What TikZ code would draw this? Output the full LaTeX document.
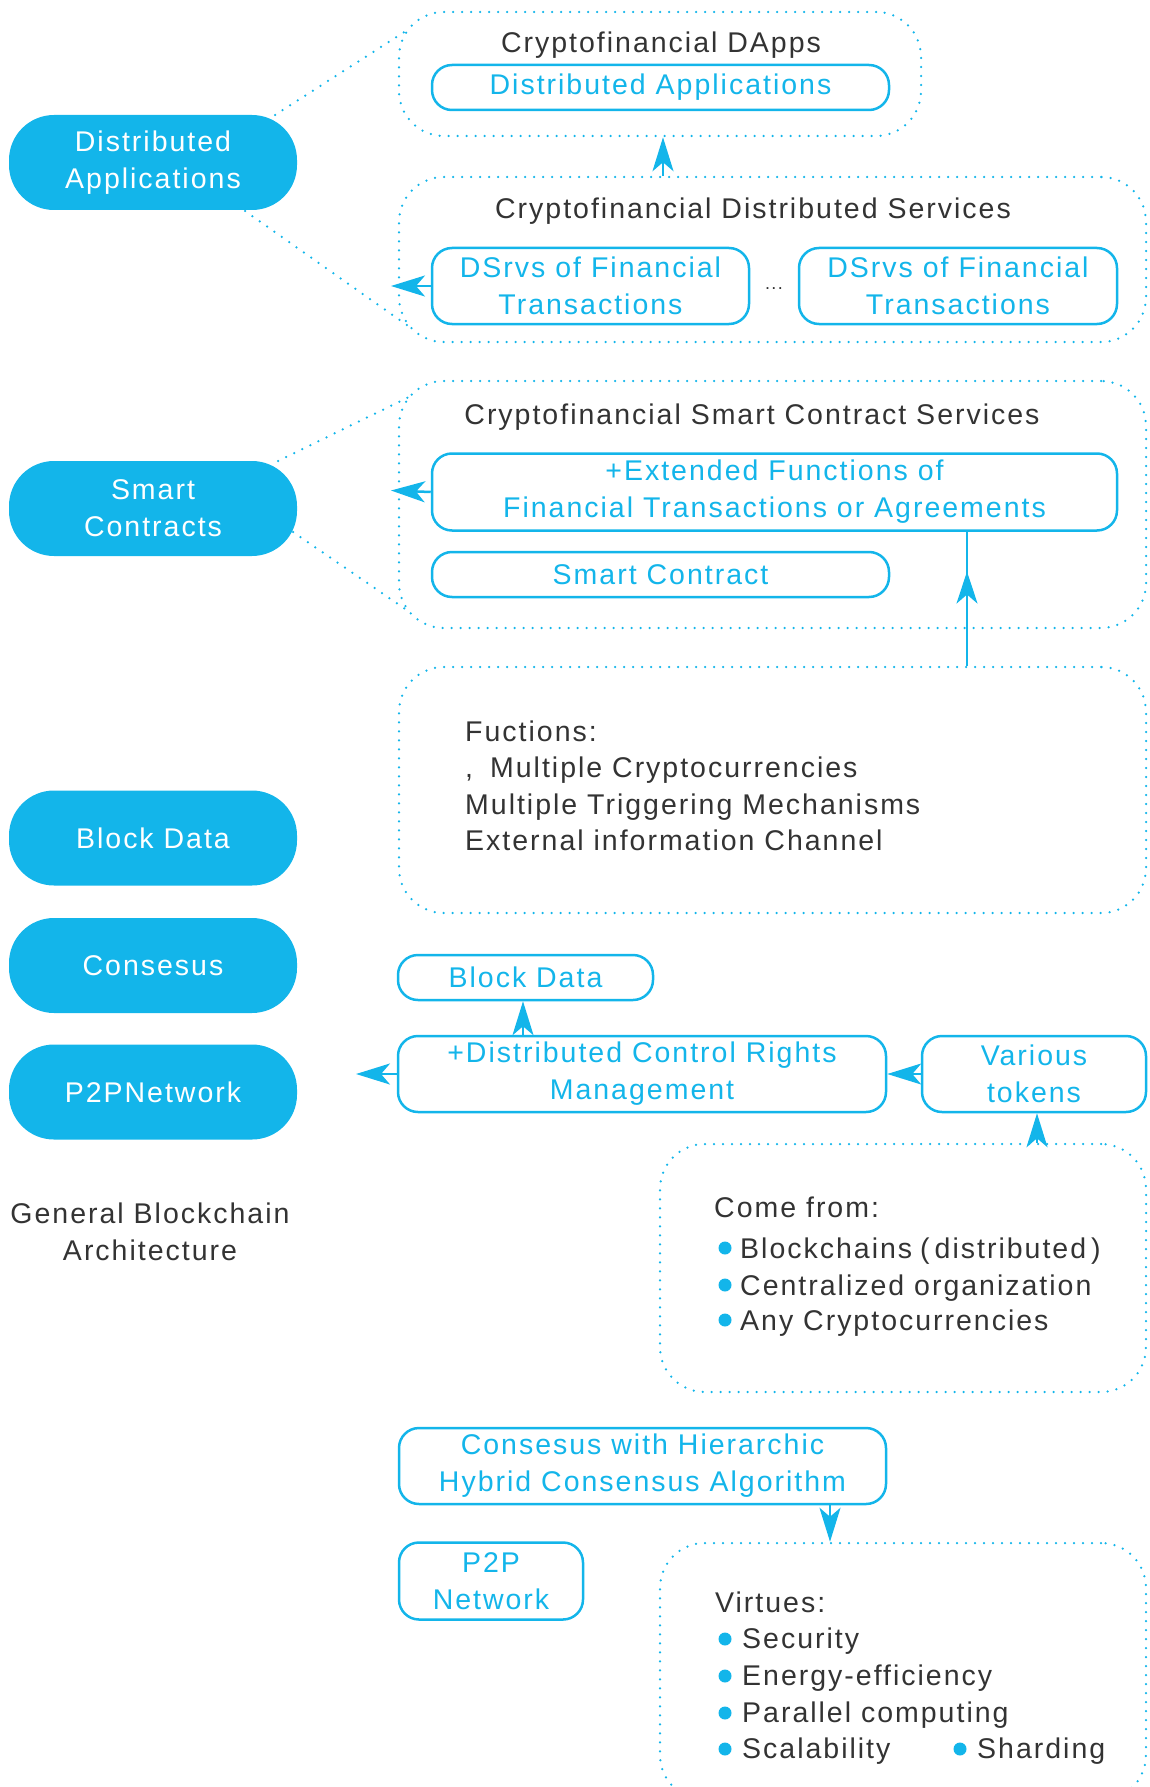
\documentclass[tikz,border=0pt]{standalone}
\usepackage{fontspec}
\setmainfont{Liberation Sans}[LetterSpace=7]
\usetikzlibrary{arrows.meta,decorations.markings}
\definecolor{cy}{HTML}{13B5EA}
\definecolor{dk}{HTML}{333333}
\newcommand{\fs}{\fontsize{28.5}{37}\selectfont}
\begin{document}
\begin{tikzpicture}[x=1pt,y=-1pt,
  pill/.style={fill=cy, draw=none, rounded corners=45pt, text=white, align=center, font=\fs, minimum width=288pt, minimum height=95pt, inner sep=0pt},
  cbox/.style={draw=cy, line width=2.5pt, rounded corners=20pt, text=cy, align=center, inner sep=0pt, font=\fs},
  dbox/.style={draw=cy, line width=2.5pt, dash pattern=on 0pt off 9pt, line cap=round, rounded corners=45pt, inner sep=0pt},
  dline/.style={draw=cy, line width=2.5pt, dash pattern=on 0pt off 9pt, line cap=round},
  ttl/.style={text=dk, font=\fs, inner sep=0pt},
  lst/.style={text=dk, font=\fs, inner sep=0pt, anchor=base west},
  bul/.style={circle, fill=cy, minimum size=13pt, inner sep=0pt},
  arr/.style={color=cy, line width=2.5pt, -{Stealth[length=34pt,width=21pt,inset=9pt]}},
  midarr/.style={color=cy, line width=2.5pt, postaction={decorate}, decoration={markings, mark=at position 0.703 with {\arrow{Stealth[length=32pt,width=21pt,inset=9pt]}}}},
]
\useasboundingbox (0,0) rectangle (1149,1787);

% left pills
\node[pill] (pDA) at (153,162.5) {Distributed\\Applications};
\node[pill] (pSC) at (153,508.5) {Smart\\Contracts};
\node[pill] (pBD) at (153,838) {Block Data};
\node[pill] (pCo) at (153,965.5) {Consesus};
\node[pill] (pP2) at (153,1092) {P2PNetwork};
\node[ttl, align=center] (gba) at (150,1232) {General Blockchain\\Architecture};

% dotted groups
\node[dbox, minimum width=522pt, minimum height=124pt] (g1) at (660,74) {};
\node[dbox, minimum width=747pt, minimum height=165pt] (g2) at (772.5,259.5) {};
\node[dbox, minimum width=747pt, minimum height=247pt] (g3) at (772.5,504.5) {};
\node[dbox, minimum width=747pt, minimum height=246pt] (g4) at (772.5,790) {};
\node[dbox, minimum width=486pt, minimum height=248pt] (g5) at (903,1268) {};
\node[dbox, minimum width=486pt, minimum height=257pt] (g6) at (903,1671.5) {};

% titles
\node[ttl, anchor=base] (t1) at (661,53) {Cryptofinancial DApps};
\node[ttl, anchor=base] (t2) at (753,219) {Cryptofinancial Distributed Services};
\node[ttl, anchor=base] (t3) at (752,424) {Cryptofinancial Smart Contract Services};

% cyan boxes
\node[cbox, minimum width=457pt, minimum height=45pt] (b1) at (660.5,87.5) {Distributed Applications};
\node[cbox, minimum width=317pt, minimum height=76pt] (b2) at (590.5,286) {DSrvs of Financial\\Transactions};
\node[text=dk, font=\fontsize{18}{20}\selectfont, inner sep=0pt, anchor=base] (ell) at (774,289) {...};
\node[cbox, minimum width=318pt, minimum height=76pt] (b3) at (958,286) {DSrvs of Financial\\Transactions};
\node[cbox, minimum width=685pt, minimum height=77pt] (b4) at (774.5,492) {+Extended Functions of\\Financial Transactions or Agreements};
\node[cbox, minimum width=457pt, minimum height=45pt] (b5) at (660.5,574.5) {Smart Contract};
\node[cbox, minimum width=255pt, minimum height=45pt] (b6) at (525.5,977.5) {Block Data};
\node[cbox, minimum width=488pt, minimum height=76pt] (b7) at (642,1074) {+Distributed Control Rights\\Management};
\node[cbox, minimum width=224pt, minimum height=76pt] (b8) at (1034,1074) {Various\\tokens};
\node[cbox, minimum width=487pt, minimum height=76pt] (b9) at (642.5,1466) {Consesus with Hierarchic\\Hybrid Consensus Algorithm};
\node[cbox, minimum width=184pt, minimum height=77pt] (b10) at (491,1581) {P2P\\Network};

% Fuctions list
\node[lst] (fn1) at (465,741) {Fuctions:};
\node[lst] (fn2) at (465,777.5) {,\hspace{17pt}Multiple Cryptocurrencies};
\node[lst] (fn3) at (465,814) {Multiple Triggering Mechanisms};
\node[lst] (fn4) at (465,850) {External information Channel};

% Come from list
\node[lst] (cf0) at (714,1217) {Come from:};
\node[bul] (cb1) at (725,1248) {};
\node[bul] (cb2) at (725,1285) {};
\node[bul] (cb3) at (725,1320) {};
\node[lst] (cf1) at (740,1258) {Blockchains\hspace{8pt}(\hspace{5pt}distributed\hspace{5pt})};
\node[lst] (cf2) at (740,1295) {Centralized organization};
\node[lst] (cf3) at (740,1330) {Any Cryptocurrencies};

% Virtues list
\node[lst] (vt0) at (715,1612) {Virtues:};
\node[bul] (vb1) at (725,1639) {};
\node[bul] (vb2) at (725,1676) {};
\node[bul] (vb3) at (725,1713) {};
\node[bul] (vb4) at (725,1749) {};
\node[bul] (vb5) at (960,1749) {};
\node[lst] (vt1) at (742,1648) {Security};
\node[lst] (vt2) at (742,1685) {Energy-efficiency};
\node[lst] (vt3) at (742,1722) {Parallel computing};
\node[lst] (vt4) at (742,1758) {Scalability};
\node[lst] (vt5) at (977,1758) {Sharding};

% helper coordinates
\coordinate (x663) at (663,0);
\coordinate (x967) at (967,0);
\coordinate (x523) at (523,0);
\coordinate (x1037) at (1037,0);
\coordinate (x830) at (830,0);
\coordinate (e2) at (391,286);
\coordinate (e3) at (391,490.5);
\coordinate (e6) at (356,1074);

% arrows
\draw[arr] (x663 |- g2.north) -- (x663 |- g1.south);
\draw[arr] (b2.west) -- (e2);
\draw[arr] (b4.west) -- (e3);
\draw[midarr] (x967 |- g4.north) -- (x967 |- b4.south);
\draw[arr] (x523 |- b7.north) -- (x523 |- b6.south);
\draw[arr] (b7.west) -- (e6);
\draw[arr] (b8.west) -- (b7.east);
\draw[arr] (x1037 |- g5.north) -- (x1037 |- b8.south);
\draw[arr] (x830 |- b9.south) -- (x830 |- g6.north);

% dotted links from pills to groups
\coordinate (d1a) at (275,115);  \coordinate (d1b) at (409,29);
\coordinate (d2a) at (245,211);  \coordinate (d2b) at (411,328);
\coordinate (d3a) at (278,461);  \coordinate (d3b) at (411,396);
\coordinate (d4a) at (293,532);  \coordinate (d4b) at (411,613);
\draw[dline] (d1a) -- (d1b);
\draw[dline] (d2a) -- (d2b);
\draw[dline] (d3a) -- (d3b);
\draw[dline] (d4a) -- (d4b);
\end{tikzpicture}
\end{document}
